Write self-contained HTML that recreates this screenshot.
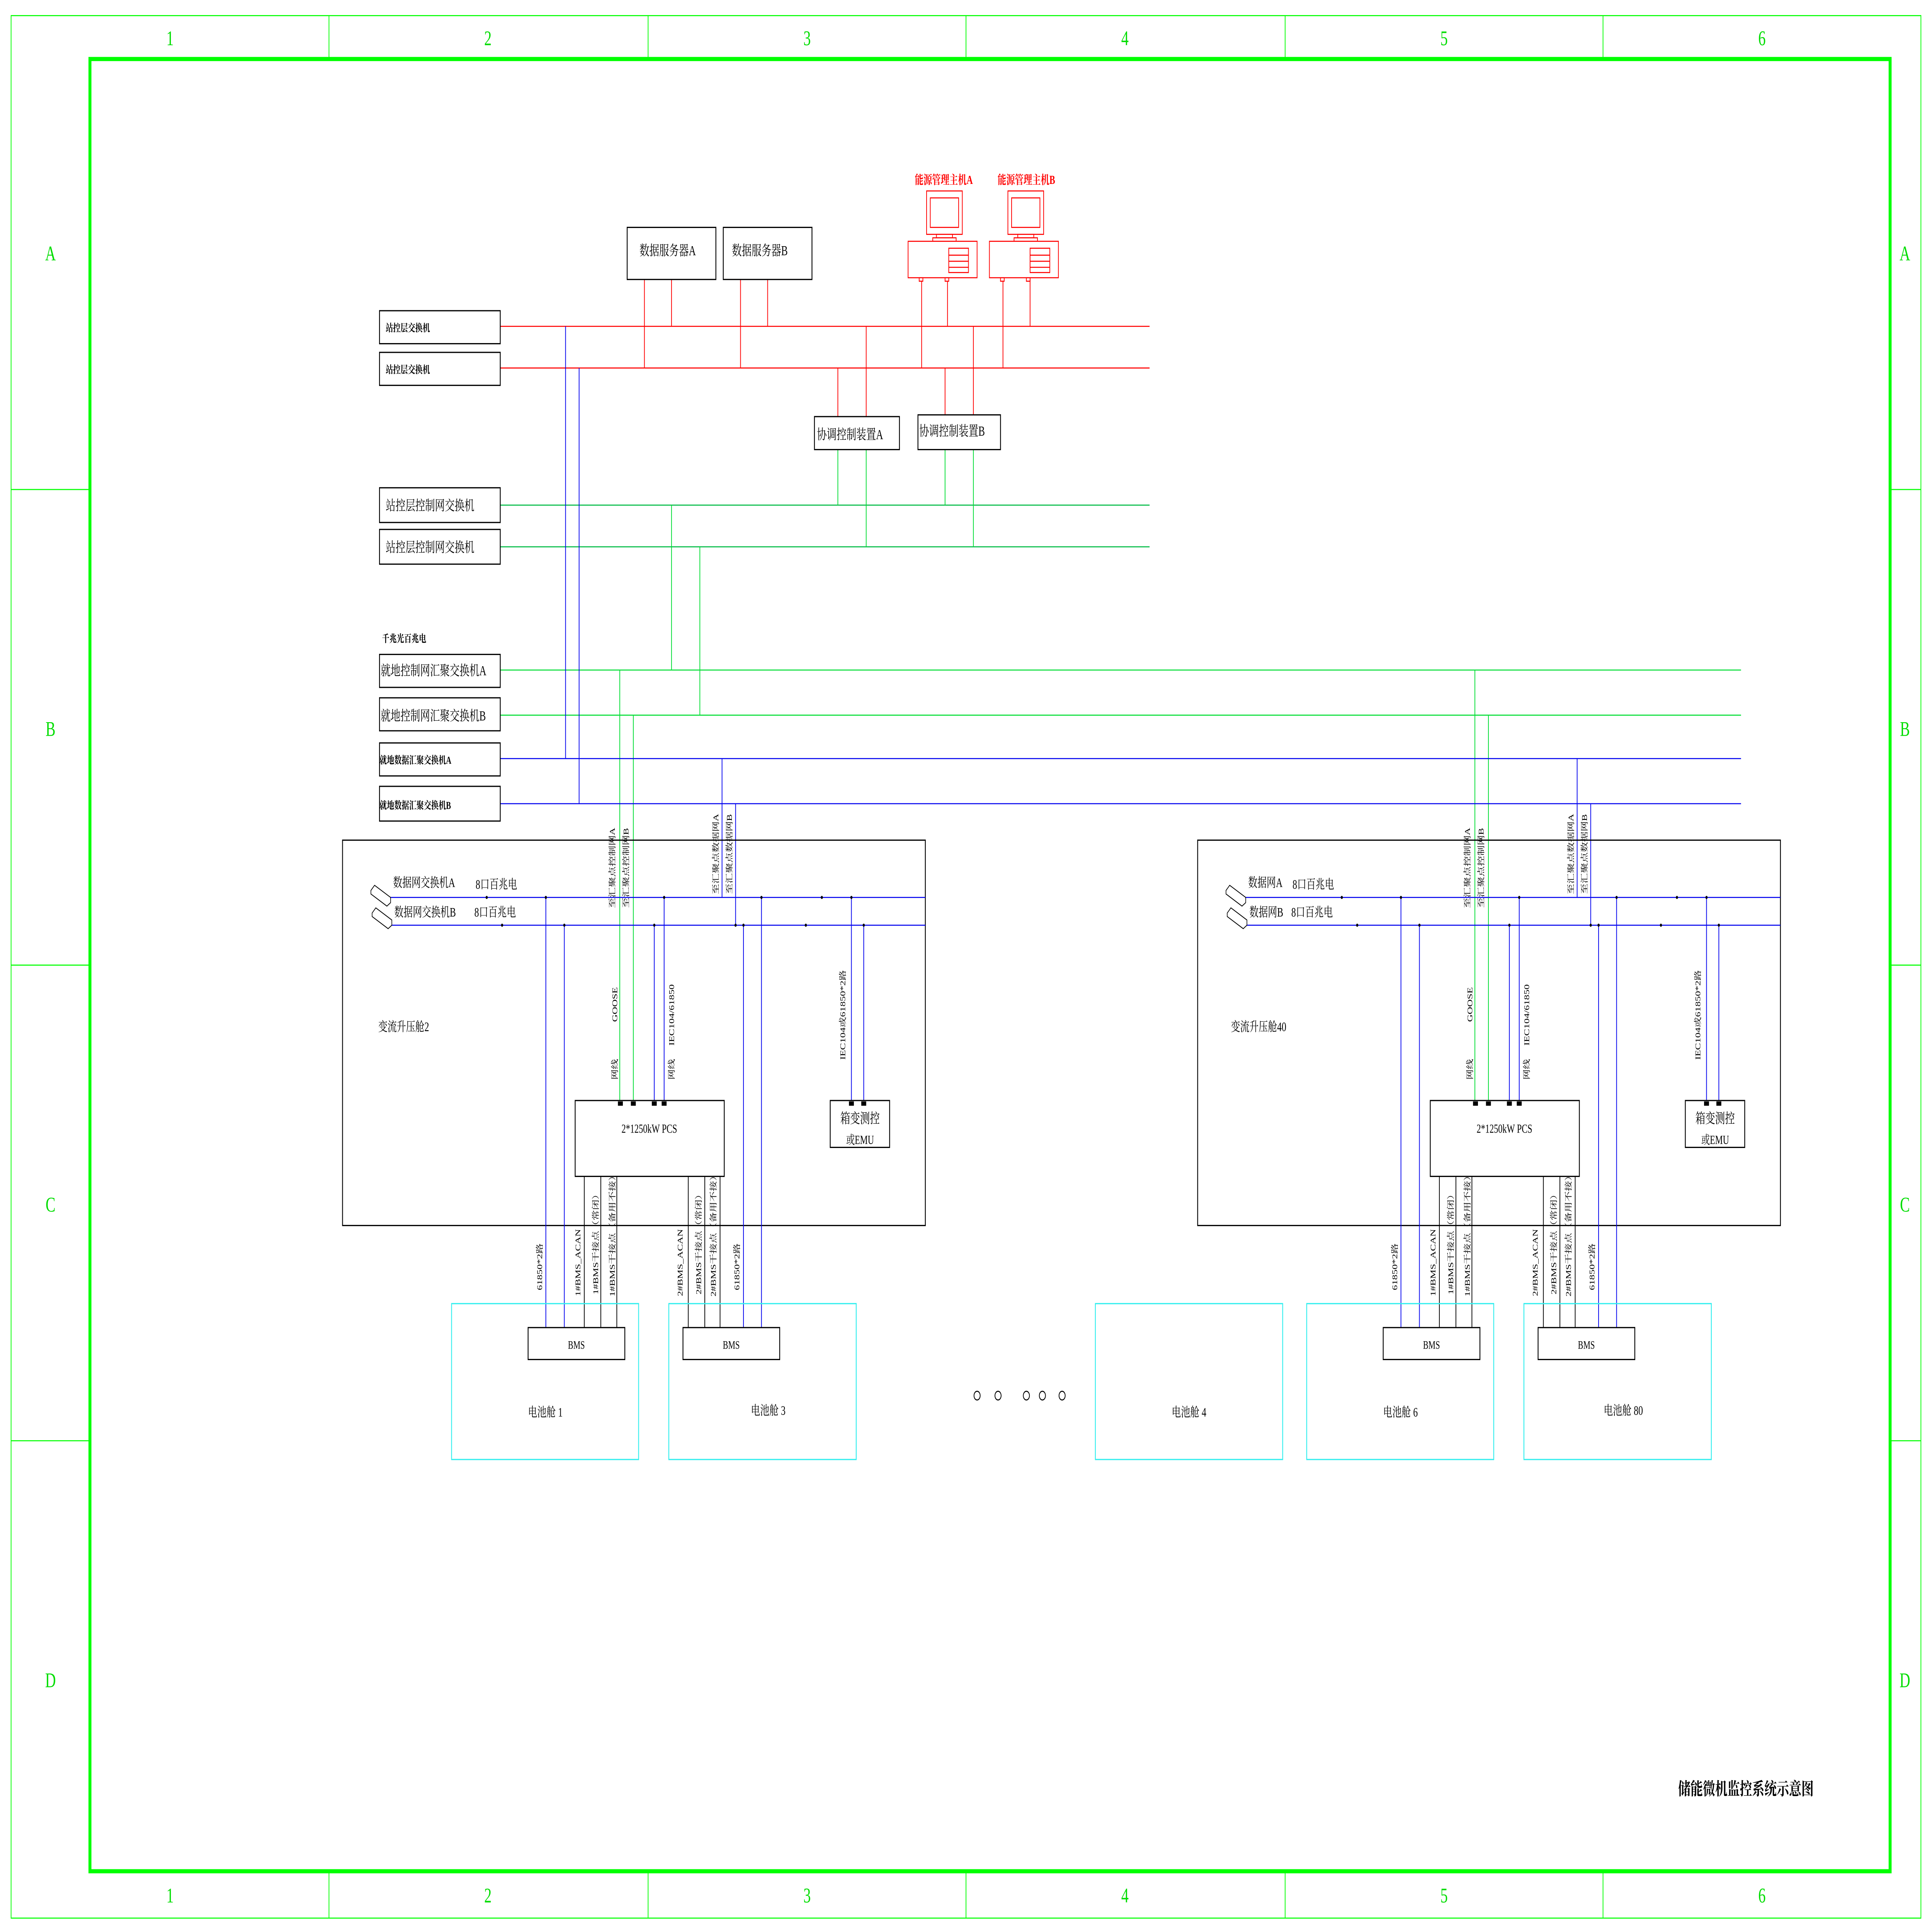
<!DOCTYPE html>
<html><head><meta charset="utf-8"><style>
html,body{margin:0;padding:0;background:#fff;width:100%;height:100%;overflow:hidden}
svg{display:block;position:fixed;left:0;top:0;width:100vw;height:100vh}
text{font-family:"Liberation Serif","Noto Serif CJK SC","Noto Sans CJK SC",serif;fill:#000}
</style></head><body>
<svg viewBox="0 0 1568 1113" preserveAspectRatio="none" xmlns="http://www.w3.org/2000/svg">
<rect width="1568" height="1113" fill="#fff"/>
<g stroke="#00ff00" fill="none">
<rect x="9" y="9" width="1550" height="1096" stroke-width="0.6"/>
<rect x="73" y="34" width="1461" height="1044" stroke-width="2.4"/>
<g stroke-width="0.6">
<line x1="267" y1="9" x2="267" y2="34"/><line x1="526" y1="9" x2="526" y2="34"/><line x1="784" y1="9" x2="784" y2="34"/><line x1="1043" y1="9" x2="1043" y2="34"/><line x1="1301" y1="9" x2="1301" y2="34"/>
<line x1="267" y1="1078" x2="267" y2="1105"/><line x1="526" y1="1078" x2="526" y2="1105"/><line x1="784" y1="1078" x2="784" y2="1105"/><line x1="1043" y1="1078" x2="1043" y2="1105"/><line x1="1301" y1="1078" x2="1301" y2="1105"/>
<line x1="9" y1="282" x2="73" y2="282"/><line x1="9" y1="556" x2="73" y2="556"/><line x1="9" y1="830" x2="73" y2="830"/>
<line x1="1534" y1="282" x2="1559" y2="282"/><line x1="1534" y1="556" x2="1559" y2="556"/><line x1="1534" y1="830" x2="1559" y2="830"/>
</g></g>
<g font-size="12" text-anchor="middle">
<text x="138" y="26" style="fill:#00dd00">1</text><text x="396" y="26" style="fill:#00dd00">2</text><text x="655" y="26" style="fill:#00dd00">3</text><text x="913" y="26" style="fill:#00dd00">4</text><text x="1172" y="26" style="fill:#00dd00">5</text><text x="1430" y="26" style="fill:#00dd00">6</text>
<text x="138" y="1096" style="fill:#00dd00">1</text><text x="396" y="1096" style="fill:#00dd00">2</text><text x="655" y="1096" style="fill:#00dd00">3</text><text x="913" y="1096" style="fill:#00dd00">4</text><text x="1172" y="1096" style="fill:#00dd00">5</text><text x="1430" y="1096" style="fill:#00dd00">6</text>
<text x="41" y="150" style="fill:#00dd00">A</text><text x="41" y="424" style="fill:#00dd00">B</text><text x="41" y="698" style="fill:#00dd00">C</text><text x="41" y="972" style="fill:#00dd00">D</text>
<text x="1546" y="150" style="fill:#00dd00">A</text><text x="1546" y="424" style="fill:#00dd00">B</text><text x="1546" y="698" style="fill:#00dd00">C</text><text x="1546" y="972" style="fill:#00dd00">D</text>
</g>

<g stroke="#ff0000" stroke-width="0.6" fill="none">
<line x1="406" y1="188" x2="933" y2="188"/><line x1="406" y1="212" x2="933" y2="212"/>
<line x1="523" y1="161" x2="523" y2="212"/><line x1="545" y1="161" x2="545" y2="188"/>
<line x1="601" y1="161" x2="601" y2="212"/><line x1="623" y1="161" x2="623" y2="188"/>
<line x1="748" y1="160" x2="748" y2="212"/><line x1="769" y1="160" x2="769" y2="188"/>
<line x1="814" y1="160" x2="814" y2="212"/><line x1="836" y1="160" x2="836" y2="188"/>
<line x1="680" y1="212" x2="680" y2="240"/><line x1="703" y1="188" x2="703" y2="240"/>
<line x1="767" y1="212" x2="767" y2="239"/><line x1="790" y1="188" x2="790" y2="239"/>
</g>
<g stroke="#ff0000" stroke-width="0.6" fill="#fff">
<g id="pc">
<rect x="752" y="110" width="29" height="25"/><rect x="755" y="114" width="23" height="17"/>
<rect x="760" y="135" width="13" height="2"/><rect x="757" y="137" width="19" height="2"/>
<rect x="737" y="139" width="56" height="21"/>
<rect x="770" y="143" width="16" height="14"/>
<line x1="770" y1="147" x2="786" y2="147"/><line x1="770" y1="150.5" x2="786" y2="150.5"/><line x1="770" y1="154" x2="786" y2="154"/>
<rect x="746" y="160" width="3" height="2"/><rect x="767" y="160" width="3" height="2"/>
</g>
<use href="#pc" transform="translate(66,0)"/>
</g>
<g font-size="7" font-weight="bold" text-anchor="middle">
<text x="766" y="106" style="fill:#ff0000">能源管理主机A</text>
<text x="833" y="106" style="fill:#ff0000">能源管理主机B</text>
</g>

<g stroke="#00dd33" stroke-width="0.6" fill="none">
<line x1="406" y1="291" x2="933" y2="291" stroke="#00bb44"/><line x1="406" y1="315" x2="933" y2="315" stroke="#00bb44"/>
<line x1="680" y1="259" x2="680" y2="291"/><line x1="703" y1="259" x2="703" y2="315"/>
<line x1="767" y1="259" x2="767" y2="291"/><line x1="790" y1="259" x2="790" y2="315"/>
<line x1="545" y1="291" x2="545" y2="386"/><line x1="568" y1="315" x2="568" y2="412"/>
<line x1="406" y1="386" x2="1413" y2="386"/><line x1="406" y1="412" x2="1413" y2="412"/>
<line x1="503" y1="386" x2="503" y2="636"/><line x1="514" y1="412" x2="514" y2="636"/>
<line x1="1197" y1="386" x2="1197" y2="636"/><line x1="1208" y1="412" x2="1208" y2="636"/>
</g>
<g stroke="#0000ee" stroke-width="0.6" fill="none">
<line x1="406" y1="437" x2="1413" y2="437"/><line x1="406" y1="463" x2="1413" y2="463"/>
<line x1="459" y1="188" x2="459" y2="437"/><line x1="470" y1="212" x2="470" y2="463"/>
<line x1="586" y1="437" x2="586" y2="517"/><line x1="597" y1="463" x2="597" y2="533"/>
<line x1="1280" y1="437" x2="1280" y2="517"/><line x1="1291" y1="463" x2="1291" y2="533"/>
</g>

<g stroke="#000" stroke-width="0.7" fill="#fff">
<rect x="308" y="179" width="98" height="19"/><rect x="308" y="203" width="98" height="19"/>
<rect x="308" y="281" width="98" height="20"/><rect x="308" y="305" width="98" height="20"/>
<rect x="308" y="377" width="98" height="19"/><rect x="308" y="402" width="98" height="19"/>
<rect x="308" y="428" width="98" height="19"/><rect x="308" y="453" width="98" height="20"/>
<rect x="509" y="131" width="72" height="30"/><rect x="587" y="131" width="72" height="30"/>
<rect x="661" y="240" width="69" height="19"/><rect x="745" y="239" width="67" height="20"/>
</g>
<g font-size="7">
<text x="313" y="191" font-weight="bold" font-size="6">站控层交换机</text>
<text x="313" y="215" font-weight="bold" font-size="6">站控层交换机</text>
<text x="313" y="294" font-size="8">站控层控制网交换机</text>
<text x="313" y="318" font-size="8">站控层控制网交换机</text>
<text x="310" y="370" font-weight="bold" font-size="6">千兆光百兆电</text>
<text x="309" y="389" font-size="8">就地控制网汇聚交换机A</text>
<text x="309" y="415" font-size="8">就地控制网汇聚交换机B</text>
<text x="308" y="440" font-weight="bold" font-size="6">就地数据汇聚交换机A</text>
<text x="308" y="466" font-weight="bold" font-size="6">就地数据汇聚交换机B</text>
<text x="519" y="147" font-size="8">数据服务器A</text>
<text x="594" y="147" font-size="8">数据服务器B</text>
<text x="663" y="253" font-size="8">协调控制装置A</text>
<text x="746" y="251" font-size="8">协调控制装置B</text>
</g>

<defs>
<g id="cab">
<rect x="278" y="484" width="473" height="222" fill="none" stroke="#000" stroke-width="0.7"/>
<g stroke="#0000ee" stroke-width="0.6" fill="none">
<line x1="316" y1="517" x2="751" y2="517"/><line x1="316" y1="533" x2="751" y2="533"/>
<line x1="443" y1="517" x2="443" y2="765"/><line x1="458" y1="533" x2="458" y2="765"/>
<line x1="539" y1="517" x2="539" y2="636"/><line x1="531" y1="533" x2="531" y2="636"/>
<line x1="603.4" y1="533" x2="603.4" y2="765"/><line x1="618" y1="517" x2="618" y2="765"/>
<line x1="691" y1="517" x2="691" y2="636"/><line x1="701" y1="533" x2="701" y2="636"/>
</g>
<g fill="#000">
<circle cx="395" cy="517" r="0.9"/><circle cx="443" cy="517" r="0.9"/><circle cx="539" cy="517" r="0.9"/><circle cx="618" cy="517" r="0.9"/><circle cx="667" cy="517" r="0.9"/><circle cx="691" cy="517" r="0.9"/>
<circle cx="407.5" cy="533" r="0.9"/><circle cx="458" cy="533" r="0.9"/><circle cx="531" cy="533" r="0.9"/><circle cx="597" cy="533" r="0.9"/><circle cx="603.4" cy="533" r="0.9"/><circle cx="654" cy="533" r="0.9"/><circle cx="701" cy="533" r="0.9"/>
</g>
<g stroke="#000" stroke-width="0.5" fill="#fff">
<path d="M301,513 l3,-3 l13,7 l0,3 l-3,2 l-13,-7z"/>
<path d="M302,526 l3,-3 l13,7 l0,3 l-3,2 l-13,-7z"/>
</g>
<rect x="466.8" y="634" width="121" height="43.7" fill="#fff" stroke="#000" stroke-width="0.7"/>
<rect x="673.8" y="634" width="48.2" height="27" fill="#fff" stroke="#000" stroke-width="0.7"/>
<g fill="#000">
<rect x="501.5" y="634.5" width="4" height="2.5"/><rect x="512" y="634.5" width="4" height="2.5"/><rect x="529" y="634.5" width="4" height="2.5"/><rect x="537" y="634.5" width="4" height="2.5"/>
<rect x="689" y="634.5" width="4" height="2.5"/><rect x="699" y="634.5" width="4" height="2.5"/>
</g>
<g stroke="#000" stroke-width="0.6">
<line x1="474.2" y1="677.7" x2="474.2" y2="765"/><line x1="487.6" y1="677.7" x2="487.6" y2="765"/><line x1="500.6" y1="677.7" x2="500.6" y2="765"/>
<line x1="558.6" y1="677.7" x2="558.6" y2="765"/><line x1="572" y1="677.7" x2="572" y2="765"/><line x1="584.4" y1="677.7" x2="584.4" y2="765"/>
</g>
<rect x="428.6" y="764.8" width="78.5" height="18.4" fill="#fff" stroke="#000" stroke-width="0.7"/>
<rect x="554.3" y="764.8" width="78.5" height="18.4" fill="#fff" stroke="#000" stroke-width="0.7"/>
<g fill="none" stroke="#33eeee" stroke-width="0.7">
<rect x="366.5" y="751" width="151.8" height="89.8"/><rect x="542.8" y="751" width="152.1" height="89.8"/>
</g>
<g font-size="7">
<text x="527" y="652.5" text-anchor="middle">2*1250kW PCS</text>
<text x="698" y="647" text-anchor="middle" font-size="8">箱变测控</text>
<text x="698" y="659" text-anchor="middle">或EMU</text>
<text x="467.8" y="777" text-anchor="middle" font-size="6.5">BMS</text>
<text x="593.5" y="777" text-anchor="middle" font-size="6.5">BMS</text>
<g font-size="6" text-anchor="middle">
<text transform="translate(501,578.7) rotate(-90)">GOOSE</text>
<text transform="translate(501,616) rotate(-90)">网线</text>
<text transform="translate(547,584.7) rotate(-90)">IEC104/61850</text>
<text transform="translate(547,616) rotate(-90)">网线</text>
<text transform="translate(686,584.7) rotate(-90)">IEC104或61850*2路</text>
<text transform="translate(499,500) rotate(-90)">至汇聚点控制网A</text>
<text transform="translate(510,500) rotate(-90)">至汇聚点控制网B</text>
<text transform="translate(583,492) rotate(-90)">至汇聚点数据网A</text>
<text transform="translate(594,492) rotate(-90)">至汇聚点数据网B</text>
<text transform="translate(440,729.8) rotate(-90)">61850*2路</text>
<text transform="translate(471,727.4) rotate(-90)">1#BMS_ACAN</text>
<text transform="translate(485.5,715.4) rotate(-90)">1#BMS干接点（常闭）</text>
<text transform="translate(499,710.6) rotate(-90)">1#BMS干接点（备用不接）</text>
<text transform="translate(554,727.4) rotate(-90)">2#BMS_ACAN</text>
<text transform="translate(569,715.4) rotate(-90)">2#BMS干接点（常闭）</text>
<text transform="translate(581,710.6) rotate(-90)">2#BMS干接点（备用不接）</text>
<text transform="translate(600,729.8) rotate(-90)">61850*2路</text>
</g>
</g>
</g>
</defs>
<use href="#cab"/>
<use href="#cab" transform="translate(694,0)"/>
<g font-size="7.5">
<text x="319" y="511">数据网交换机A</text><text x="320" y="528">数据网交换机B</text>
<text x="386" y="512">8口百兆电</text><text x="385" y="528">8口百兆电</text>
<text x="307" y="594">变流升压舱2</text>
<text x="442.6" y="816" text-anchor="middle">电池舱 1</text>
<text x="623.5" y="815" text-anchor="middle">电池舱 3</text>
<text x="1013" y="511">数据网A</text><text x="1014" y="528">数据网B</text>
<text x="1049" y="512">8口百兆电</text><text x="1048" y="528">8口百兆电</text>
<text x="999" y="594">变流升压舱40</text>
<text x="1136.6" y="816" text-anchor="middle">电池舱 6</text>
<text x="1317.5" y="815" text-anchor="middle">电池舱 80</text>
<text x="965" y="816" text-anchor="middle">电池舱 4</text>
</g>
<rect x="889" y="751" width="152" height="89.8" fill="none" stroke="#33eeee" stroke-width="0.7"/>
<g fill="none" stroke="#000" stroke-width="0.6">
<circle cx="793" cy="804" r="2.5"/><circle cx="810" cy="804" r="2.5"/><circle cx="833" cy="804" r="2.5"/><circle cx="846" cy="804" r="2.5"/><circle cx="862" cy="804" r="2.5"/>
</g>
<text x="1417" y="1034" text-anchor="middle" font-size="10" font-weight="bold">储能微机监控系统示意图</text>
</svg>
</body></html>
